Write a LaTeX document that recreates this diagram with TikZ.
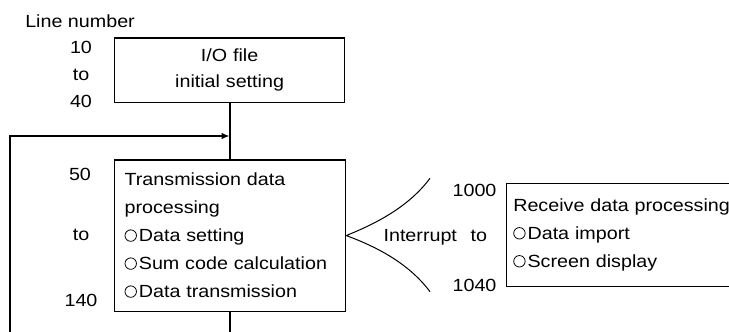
\documentclass[tikz,border=0pt]{standalone}
\usepackage{fontspec}
\setmainfont[FakeStretch=1.12]{Liberation Sans}
\usetikzlibrary{arrows.meta}

\newcommand{\rcirc}{\tikz[baseline=0pt]\draw[line width=0.6pt] (0,4.7pt) circle (4.3pt);\hspace{1.5pt}}

\tikzset{
  box/.style={draw, line width=0.9pt, rectangle, inner ysep=0pt},
  lbl/.style={inner sep=0pt},
  flow/.style={line width=1.5pt},
  branch/.style={line width=0.75pt},
}

\begin{document}
\begin{tikzpicture}[x=0.75pt,y=-0.75pt,font=\fontsize{13.2}{21}\selectfont]
\useasboundingbox (0,0) rectangle (729,332);
\clip (0,0) rectangle (729,332);
% boxes
\node[box, anchor=north west, text width=172.5pt, inner xsep=0pt, align=center,
  minimum height=48.3pt, font=\fontsize{13.2}{20}\selectfont] (io) at (114,37.3)
  {I/O file\\initial setting};
\node[box, anchor=north west, text width=158.25pt, inner xsep=7.5pt, align=left,
  minimum height=113.5pt] (tx) at (114,159.3)
  {Transmission data\\processing\\\rcirc Data setting\\\rcirc Sum code calculation\\\rcirc Data transmission};
\node[box, anchor=west, text width=180pt, inner xsep=5.25pt, align=left,
  minimum height=77.6pt] (rx) at (505.7,235)
  {Receive data processing\\\rcirc Data import\\\rcirc Screen display};
% line numbers
\node[lbl, anchor=base west] (linenum) at (25,27.7) {Line number};
\node[lbl, anchor=base] (n10) at (81,53.3) {10};
\node[lbl, anchor=base] (to1) at (81,80.5) {to};
\node[lbl, anchor=base] (n40) at (81,107.3) {40};
\node[lbl, anchor=base] (n50) at (80,180) {50};
\node[lbl, anchor=base] (to2) at (81,240) {to};
\node[lbl, anchor=base] (n140) at (81,306.7) {140};
\node[lbl, anchor=base east] (n1000) at (496.7,196) {1000};
\node[lbl, anchor=base east] (n1040) at (496.7,291.7) {1040};
\node[lbl, anchor=base west] (intr) at (383.3,241.7) {Interrupt\hspace{10.3pt}to};
% flow lines
\coordinate (loop) at (10,136);
\coordinate (loopend) at (10,345);
\draw[flow] (io.south) -- (io.south |- tx.north);
\draw[flow, -{Latex[length=6pt,width=5pt]}] (loopend) |- (io.south |- loop);
\draw[flow] (tx.south) -- (tx.south |- loopend);
% interrupt branch
\coordinate (up) at (430,178.3);
\coordinate (dn) at (430,291.7);
\draw[branch] (up) .. controls (410,205) and (380,222) .. (tx.east)
  .. controls (380,248) and (410,265) .. (dn);
\end{tikzpicture}
\end{document}
